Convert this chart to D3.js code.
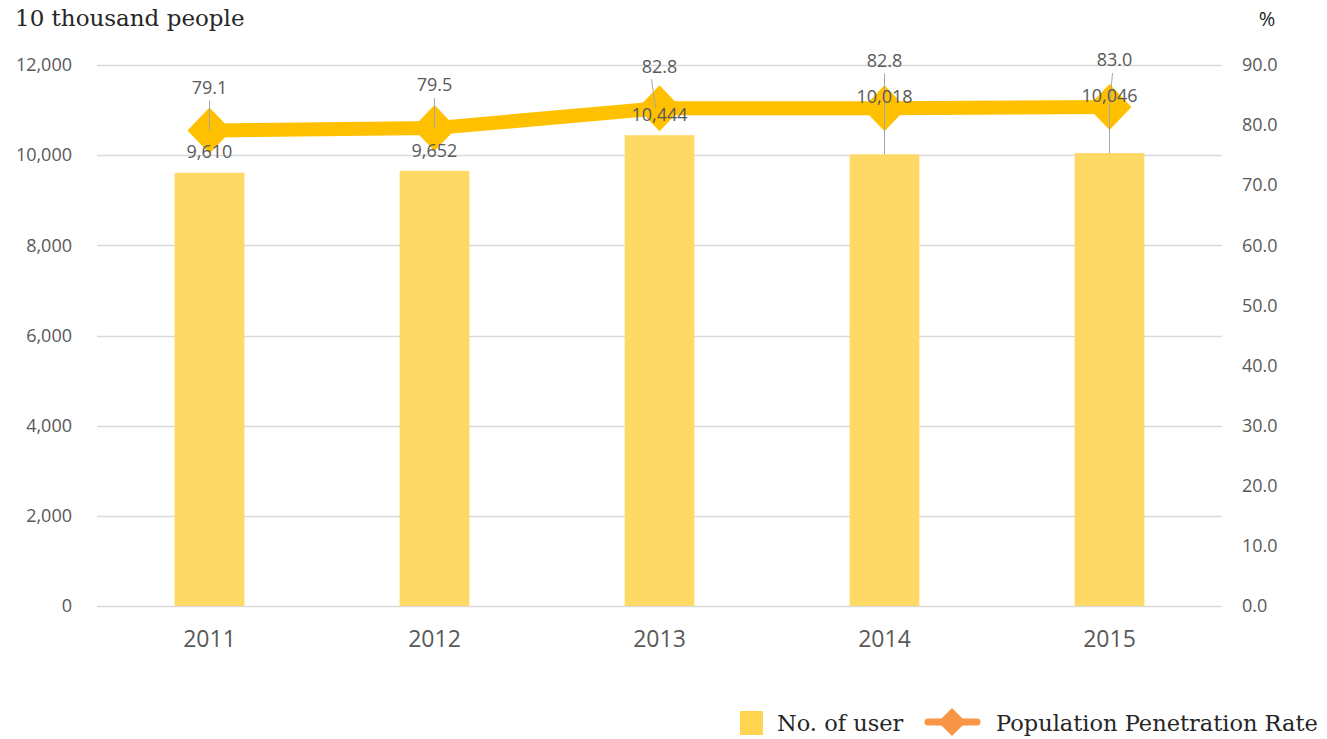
<!DOCTYPE html>
<html>
<head>
<meta charset="utf-8">
<script src="https://cdn.jsdelivr.net/npm/d3@7"></script>
<style>
  body { margin: 0; background: #fff; }
  svg { display: block; }
</style>
</head>
<body>
<div id="chart"></div>
<script>
// chart data
const years = ["2011", "2012", "2013", "2014", "2015"];
const users = [9610, 9652, 10444, 10018, 10046];
const penetration = [79.1, 79.5, 82.8, 82.8, 83.0];
const leftTicks = [0, 2000, 4000, 6000, 8000, 10000, 12000];
const rightTicks = [0, 10, 20, 30, 40, 50, 60, 70, 80, 90];

// label offsets (layout only): [dx, dy] of the text centre from its anchor point
const rateLabelOffset = [[0, -43], [0, -43], [0, -42], [0, -48], [5, -47]];
const userLabelOffset = [[0, -21], [0, -20], [0, -20], [0, -58], [0, -57]];

const W = 1327, H = 739;
const plot = { left: 97, right: 1222, top: 65, bottom: 606 };

const svg = d3.select("#chart").append("svg")
  .attr("width", W)
  .attr("height", H);

const x = d3.scaleBand()
  .domain(years)
  .range([plot.left, plot.right])
  .paddingInner(0.69)
  .paddingOuter(0.345);

const yLeft = d3.scaleLinear().domain([0, 12000]).range([plot.bottom, plot.top]);
const yRight = d3.scaleLinear().domain([0, 90]).range([plot.bottom, plot.top]);

const tickFont = "'Open Sans', 'Noto Sans', sans-serif";
const serifFont = "'DejaVu Serif', serif";
const textGrey = "#595959";

// gridlines
svg.append("g")
  .selectAll("line")
  .data(leftTicks)
  .join("line")
  .attr("x1", plot.left)
  .attr("x2", plot.right)
  .attr("y1", d => Math.round(yLeft(d)) + 0.5)
  .attr("y2", d => Math.round(yLeft(d)) + 0.5)
  .attr("stroke", "#d9d9d9")
  .attr("stroke-width", 1.3);

// left axis
const leftAxis = svg.append("g")
  .attr("transform", `translate(${plot.left - 25},0)`)
  .call(d3.axisLeft(yLeft).tickValues(leftTicks).tickSize(0).tickFormat(d3.format(",")));
leftAxis.select(".domain").remove();
leftAxis.selectAll("text")
  .attr("font-family", tickFont)
  .attr("font-size", 18)
  .attr("fill", textGrey)
  .attr("x", 0);

// right axis
const rightAxis = svg.append("g")
  .attr("transform", `translate(${plot.right + 20},0)`)
  .call(d3.axisRight(yRight).tickValues(rightTicks).tickSize(0).tickFormat(d3.format(".1f")));
rightAxis.select(".domain").remove();
rightAxis.selectAll("text")
  .attr("font-family", tickFont)
  .attr("font-size", 18)
  .attr("fill", textGrey)
  .attr("x", 0);

// x axis labels
const xAxis = svg.append("g")
  .attr("transform", `translate(0,${plot.bottom + 22})`)
  .call(d3.axisBottom(x).tickSize(0));
xAxis.select(".domain").remove();
xAxis.selectAll("text")
  .attr("font-family", tickFont)
  .attr("font-size", 23)
  .attr("fill", textGrey);

// bars
svg.append("g")
  .selectAll("rect")
  .data(years)
  .join("rect")
  .attr("x", d => x(d))
  .attr("width", x.bandwidth())
  .attr("y", (d, i) => yLeft(users[i]))
  .attr("height", (d, i) => yLeft(0) - yLeft(users[i]))
  .attr("fill", "#ffd966");

// penetration line
const pts = years.map((d, i) => [x(d) + x.bandwidth() / 2, yRight(penetration[i])]);
svg.append("path")
  .datum(pts)
  .attr("d", d3.line())
  .attr("fill", "none")
  .attr("stroke", "#ffc000")
  .attr("stroke-width", 14);

svg.append("g")
  .selectAll("path")
  .data(pts)
  .join("path")
  .attr("transform", d => `translate(${d[0]},${d[1]})`)
  .attr("d", "M0,-23L22,0L0,23L-22,0Z")
  .attr("fill", "#ffc000");

// leader lines
const leaders = svg.append("g").attr("stroke", "#a6a6a6").attr("stroke-width", 1);
pts.forEach((p, i) => {
  const [dx, dy] = rateLabelOffset[i];
  leaders.append("line")
    .attr("x1", p[0] + dx * 0.6 + (i === 2 ? -8 : 0)).attr("y1", p[1] + dy + 13)
    .attr("x2", p[0] + (i === 2 ? -4 : 0)).attr("y2", p[1]);
  const bx = x(years[i]) + x.bandwidth() / 2;
  const by = yLeft(users[i]);
  const [ux, uy] = userLabelOffset[i];
  if (uy < -40) {
    leaders.append("line")
      .attr("x1", bx).attr("y1", by)
      .attr("x2", bx + ux).attr("y2", by + uy + 11);
  }
});

// data labels
const labels = svg.append("g")
  .attr("font-family", tickFont)
  .attr("font-size", 18)
  .attr("fill", textGrey)
  .attr("text-anchor", "middle");

labels.selectAll(".rate")
  .data(penetration)
  .join("text")
  .attr("class", "rate")
  .attr("x", (d, i) => pts[i][0] + rateLabelOffset[i][0])
  .attr("y", (d, i) => pts[i][1] + rateLabelOffset[i][1])
  .attr("dy", "0.35em")
  .text(d => d3.format(".1f")(d));

labels.selectAll(".users")
  .data(users)
  .join("text")
  .attr("class", "users")
  .attr("x", (d, i) => x(years[i]) + x.bandwidth() / 2 + userLabelOffset[i][0])
  .attr("y", (d, i) => yLeft(d) + userLabelOffset[i][1])
  .attr("dy", "0.35em")
  .text(d => d3.format(",")(d));

// axis titles
svg.append("text")
  .attr("x", 15)
  .attr("y", 26)
  .attr("font-family", serifFont)
  .attr("font-size", 23)
  .attr("fill", "#262626")
  .text("10 thousand people");

svg.append("text")
  .attr("x", 1267)
  .attr("y", 26)
  .attr("text-anchor", "middle")
  .attr("font-family", tickFont)
  .attr("font-size", 20)
  .attr("fill", "#262626")
  .text("%");

// legend
const legend = svg.append("g").attr("font-family", serifFont).attr("font-size", 22.5).attr("fill", "#262626");
legend.append("rect")
  .attr("x", 740).attr("y", 711)
  .attr("width", 23).attr("height", 24)
  .attr("fill", "#ffd54f");
legend.append("text")
  .attr("x", 777).attr("y", 731)
  .text("No. of user");
legend.append("line")
  .attr("x1", 928).attr("x2", 977)
  .attr("y1", 722).attr("y2", 722)
  .attr("stroke", "#f79646")
  .attr("stroke-width", 7)
  .attr("stroke-linecap", "round");
legend.append("path")
  .attr("transform", "translate(952,722)")
  .attr("d", "M0,-14L14,0L0,14L-14,0Z")
  .attr("fill", "#f79646");
legend.append("text")
  .attr("x", 996).attr("y", 731)
  .text("Population Penetration Rate");
</script>
</body>
</html>
